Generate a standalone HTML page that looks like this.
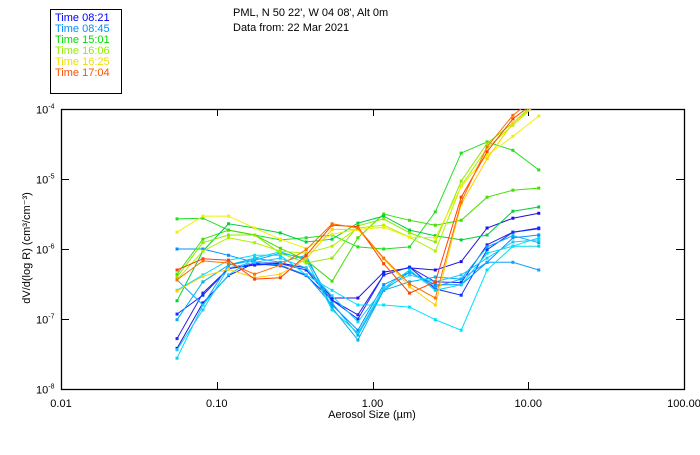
<!DOCTYPE html>
<html><head><meta charset="utf-8"><style>
body{margin:0;background:#fff;width:700px;height:450px;overflow:hidden;font-family:"Liberation Sans",sans-serif}
svg text{font-family:"Liberation Sans",sans-serif;font-size:11px}
</style></head><body>
<svg id="chart" width="700" height="450" xmlns="http://www.w3.org/2000/svg">
<rect x="50.5" y="9.5" width="71" height="84" fill="none" stroke="#000"/>
<g id="legend"></g>
<text x="233" y="16">PML, N 50 22', W 04 08', Alt 0m</text>
<text x="233" y="31">Data from: 22 Mar 2021</text>
<g id="axes"></g>
<g id="series"></g>
<text x="372" y="418" text-anchor="middle" font-size="10">Aerosol Size (µm)</text>
<text transform="translate(30,248) rotate(-90)" text-anchor="middle" font-size="10">dV/d(log R) (cm³/cm⁻³)</text>
</svg>
<script>
const sizes=[0.0556,0.0815,0.119,0.175,0.256,0.375,0.55,0.806,1.18,1.73,2.53,3.71,5.44,7.97,11.68];
const legendLabels=["Time 08:21","Time 08:45","Time 15:01","Time 16:06","Time 16:25","Time 17:04"];
const legendColors=["#0000ff","#0090ff","#00e000","#90f000","#f0e000","#ff5000"];
const seriesColors=["#2010e0","#3020f0","#1030ff","#0090ff","#10a0ff","#00b0f0","#00d8f0","#00e0ff","#20c8ff","#20e020","#40e000","#00d040","#90e800","#b0f000","#f0f000","#ffd000","#ff4000","#ff7000"];
const logValues=[
[-7.42,-6.77,-6.38,-6.2,-6.2,-6.27,-6.7,-6.7,-6.33,-6.27,-6.3,-6.18,-5.7,-5.56,-5.49],
[-7.28,-6.63,-6.28,-6.21,-6.24,-6.38,-6.73,-6.94,-6.37,-6.26,-6.47,-6.48,-5.94,-5.76,-5.7],
[-6.93,-6.66,-6.28,-6.23,-6.21,-6.3,-6.73,-7.0,-6.37,-6.26,-6.57,-6.66,-6.01,-5.76,-5.71],
[-6.0,-6.0,-6.09,-6.19,-6.23,-6.37,-6.8,-7.16,-6.51,-6.33,-6.51,-6.51,-6.19,-5.84,-5.8],
[-6.44,-6.8,-6.23,-6.16,-6.06,-6.13,-6.77,-7.23,-6.59,-6.33,-6.54,-6.43,-6.19,-6.19,-6.3],
[-7.01,-6.47,-6.23,-6.13,-6.19,-6.09,-6.84,-7.3,-6.59,-6.47,-6.4,-6.43,-5.97,-5.81,-5.91],
[-7.56,-6.8,-6.37,-6.13,-6.04,-6.16,-6.87,-7.2,-6.56,-6.3,-6.59,-6.51,-6.06,-5.96,-5.96],
[-6.59,-6.37,-6.16,-6.09,-6.09,-6.37,-6.59,-6.8,-6.8,-6.83,-7.01,-7.16,-6.3,-5.96,-5.84],
[-7.44,-6.87,-6.27,-6.19,-6.13,-6.27,-6.67,-7.04,-6.56,-6.37,-6.47,-6.37,-6.13,-5.9,-5.87],
[-5.57,-5.56,-5.73,-5.8,-5.87,-5.84,-5.8,-5.97,-6.0,-5.97,-5.47,-4.63,-4.47,-4.59,-4.87],
[-6.36,-5.86,-5.73,-5.8,-5.99,-6.16,-6.46,-5.84,-5.5,-5.59,-5.66,-5.59,-5.26,-5.16,-5.13],
[-6.74,-6.03,-5.64,-5.7,-5.77,-5.9,-5.86,-5.63,-5.53,-5.73,-5.81,-5.87,-5.8,-5.46,-5.4],
[-6.4,-5.91,-5.8,-5.8,-6.06,-6.2,-6.13,-5.67,-5.57,-5.77,-5.9,-5.03,-4.49,-4.2,-3.86],
[-6.44,-6.03,-5.84,-5.91,-6.03,-6.06,-5.96,-5.7,-5.66,-5.83,-6.03,-5.1,-4.56,-4.23,-3.9],
[-5.76,-5.53,-5.53,-5.7,-5.86,-5.99,-5.79,-5.72,-5.69,-5.83,-5.84,-5.11,-4.66,-4.39,-4.1],
[-6.6,-6.39,-6.29,-6.41,-6.36,-6.14,-5.72,-5.72,-6.14,-6.54,-6.8,-5.36,-4.71,-4.2,-3.9],
[-6.3,-6.14,-6.16,-6.43,-6.41,-6.09,-5.66,-5.68,-6.21,-6.63,-6.47,-5.26,-4.61,-4.14,-3.86],
[-6.44,-6.17,-6.2,-6.36,-6.23,-6.01,-5.64,-5.7,-6.13,-6.5,-6.7,-5.33,-4.54,-4.09,-3.8]
];
const xTicks=[0.01,0.1,1,10,100];
const xTickLabels=["0.01","0.10","1.00","10.00","100.00"];
const yTicks=[-4,-5,-6,-7,-8];
const yTickLabels=["-4","-5","-6","-7","-8"];

const L=61,R=684,T=109,B=389;
const NS="http://www.w3.org/2000/svg";
function xs(v){return L+(Math.log10(v)+2)/4*(R-L);}
function ys(lv){return T+(-4-lv)/4*(B-T);}
function mk(tag,attrs,parent){const e=document.createElementNS(NS,tag);for(const k in attrs)e.setAttribute(k,attrs[k]);parent.appendChild(e);return e;}

const lg=document.getElementById('legend');
legendLabels.forEach((t,i)=>{
  const e=mk('text',{x:55,y:21+i*11,fill:legendColors[i],'font-size':'10'},lg);
  
  
  e.textContent=t;
});

const ax=document.getElementById('axes');
const frame=mk('rect',{x:L+0.5,y:T+0.5,width:R-L,height:B-T,fill:'none',stroke:'#000','stroke-width':1.3},ax);


xTicks.forEach((v,i)=>{
  const x=Math.round(xs(v))+0.5;
  mk('line',{x1:x,x2:x,y1:B,y2:B-7,stroke:'#000'},ax);
  mk('line',{x1:x,x2:x,y1:T,y2:T+7,stroke:'#000'},ax);
  const t=mk('text',{x:xs(v),y:407,'text-anchor':'middle','font-size':'10'},ax);
  
  
  t.textContent=xTickLabels[i];
});
yTicks.forEach((lv,i)=>{
  const y=Math.round(ys(lv))+0.5;
  mk('line',{x1:L,x2:L+8,y1:y,y2:y,stroke:'#000'},ax);
  mk('line',{x1:R,x2:R-8,y1:y,y2:y,stroke:'#000'},ax);
  const t=mk('text',{x:36,y:y+4,'font-size':'10'},ax);
  
  
  t.textContent='10';
  const s=mk('tspan',{dy:-5,'font-size':'7'},t);
  s.textContent=yTickLabels[i];
});

const sg=document.getElementById('series');
const cp=mk('clipPath',{id:'clip'},sg);
mk('rect',{x:L,y:T,width:R-L,height:B-T},cp);
logValues.forEach((vals,si)=>{
  const g=mk('g',{'clip-path':'url(#clip)'},sg);
  
  
  const pts=vals.map((v,i)=>xs(sizes[i]).toFixed(1)+','+ys(v).toFixed(1)).join(' ');
  mk('polyline',{points:pts,fill:'none',stroke:seriesColors[si],'stroke-width':1},g);
  vals.forEach((v,i)=>{
    const p=mk('rect',{x:xs(sizes[i])-1.5,y:ys(v)-1.5,width:3,height:3,fill:seriesColors[si]},g);
    
    
  });
});
</script>
</body></html>
